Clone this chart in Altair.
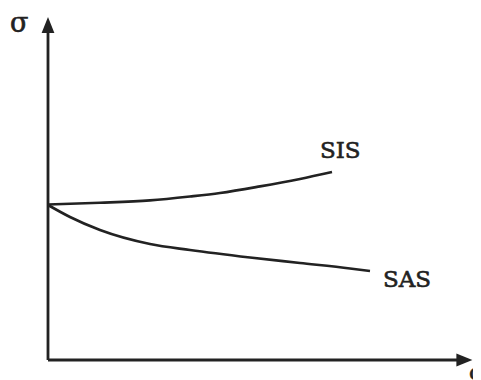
import altair as alt
import pandas as pd

# Curve data (c on x, sigma on y)
sis_c = [0.0, 1.3, 2.55, 3.55, 4.3, 5.3, 6.3, 7.1]
sis_s = [3.8875, 3.93, 3.99, 4.0875, 4.175, 4.34, 4.5275, 4.7]
sas_c = [0.0, 0.55, 1.3, 2.55, 3.55, 5.05, 6.3, 7.55, 8.05]
sas_s = [3.875, 3.575, 3.25, 2.9, 2.75, 2.5625, 2.425, 2.2875, 2.225]

# Axis lines and arrowheads
axis_x0 = [0.0, 0.0]
axis_y0 = [0.0, 0.0]
axis_x1 = [0.0, 10.25]
axis_y1 = [8.2, 0.0]
arrow_up = (0.0, 8.375)
arrow_right = (10.41, 0.0)

# Labels
label_text = ["SIS", "SAS", "σ", "c"]
label_x = [6.8, 8.375, -0.95, 10.525]
label_y = [5.05, 1.825, 8.2, -0.5]
label_size = [23, 23, 27, 23]

INK = "#222222"

xs = alt.Scale(domain=[-1, 10.625], nice=False, zero=False)
ys = alt.Scale(domain=[-0.5, 8.8], nice=False, zero=False)

curves = pd.DataFrame(
    [{"c": c, "s": s, "series": "SIS", "o": i} for i, (c, s) in enumerate(zip(sis_c, sis_s))]
    + [{"c": c, "s": s, "series": "SAS", "o": i} for i, (c, s) in enumerate(zip(sas_c, sas_s))]
)
axes_df = pd.DataFrame({"x": axis_x0, "y": axis_y0, "x2": axis_x1, "y2": axis_y1})
up_df = pd.DataFrame({"x": [arrow_up[0]], "y": [arrow_up[1]]})
right_df = pd.DataFrame({"x": [arrow_right[0]], "y": [arrow_right[1]]})
labels = pd.DataFrame({"t": label_text, "x": label_x, "y": label_y, "size": label_size})

axes_layer = alt.Chart(axes_df).mark_rule(color=INK, strokeWidth=2.8).encode(
    x=alt.X("x:Q", scale=xs, axis=None),
    y=alt.Y("y:Q", scale=ys, axis=None),
    x2="x2:Q",
    y2="y2:Q",
)

up_layer = alt.Chart(up_df).mark_point(
    shape="M0,-1L-0.8,1L0.8,1Z", size=256, filled=True, color=INK, opacity=1
).encode(x=alt.X("x:Q", scale=xs, axis=None), y=alt.Y("y:Q", scale=ys, axis=None))

right_layer = alt.Chart(right_df).mark_point(
    shape="M1,0L-1,-0.8L-1,0.8Z", size=256, filled=True, color=INK, opacity=1
).encode(x=alt.X("x:Q", scale=xs, axis=None), y=alt.Y("y:Q", scale=ys, axis=None))

lines = alt.Chart(curves).mark_line(
    color=INK, strokeWidth=2.6, interpolate="monotone"
).encode(
    x=alt.X("c:Q", scale=xs, axis=None),
    y=alt.Y("s:Q", scale=ys, axis=None),
    detail="series:N",
    order="o:Q",
)

text_layer = alt.Chart(labels).mark_text(
    align="left", baseline="alphabetic", font="DejaVu Serif", color=INK,
    stroke=INK, strokeWidth=0.6
).encode(
    x=alt.X("x:Q", scale=xs, axis=None),
    y=alt.Y("y:Q", scale=ys, axis=None),
    text="t:N",
    size=alt.Size("size:Q", scale=None, legend=None),
)

chart = alt.layer(axes_layer, lines, up_layer, right_layer, text_layer).properties(
    width=465,
    height=372,
    autosize=alt.AutoSizeParams(type="none"),
    padding=0,
    background="white",
).configure_view(stroke=None, strokeWidth=0)

chart.save("out.html", embed_options={"renderer": "svg", "actions": False})
